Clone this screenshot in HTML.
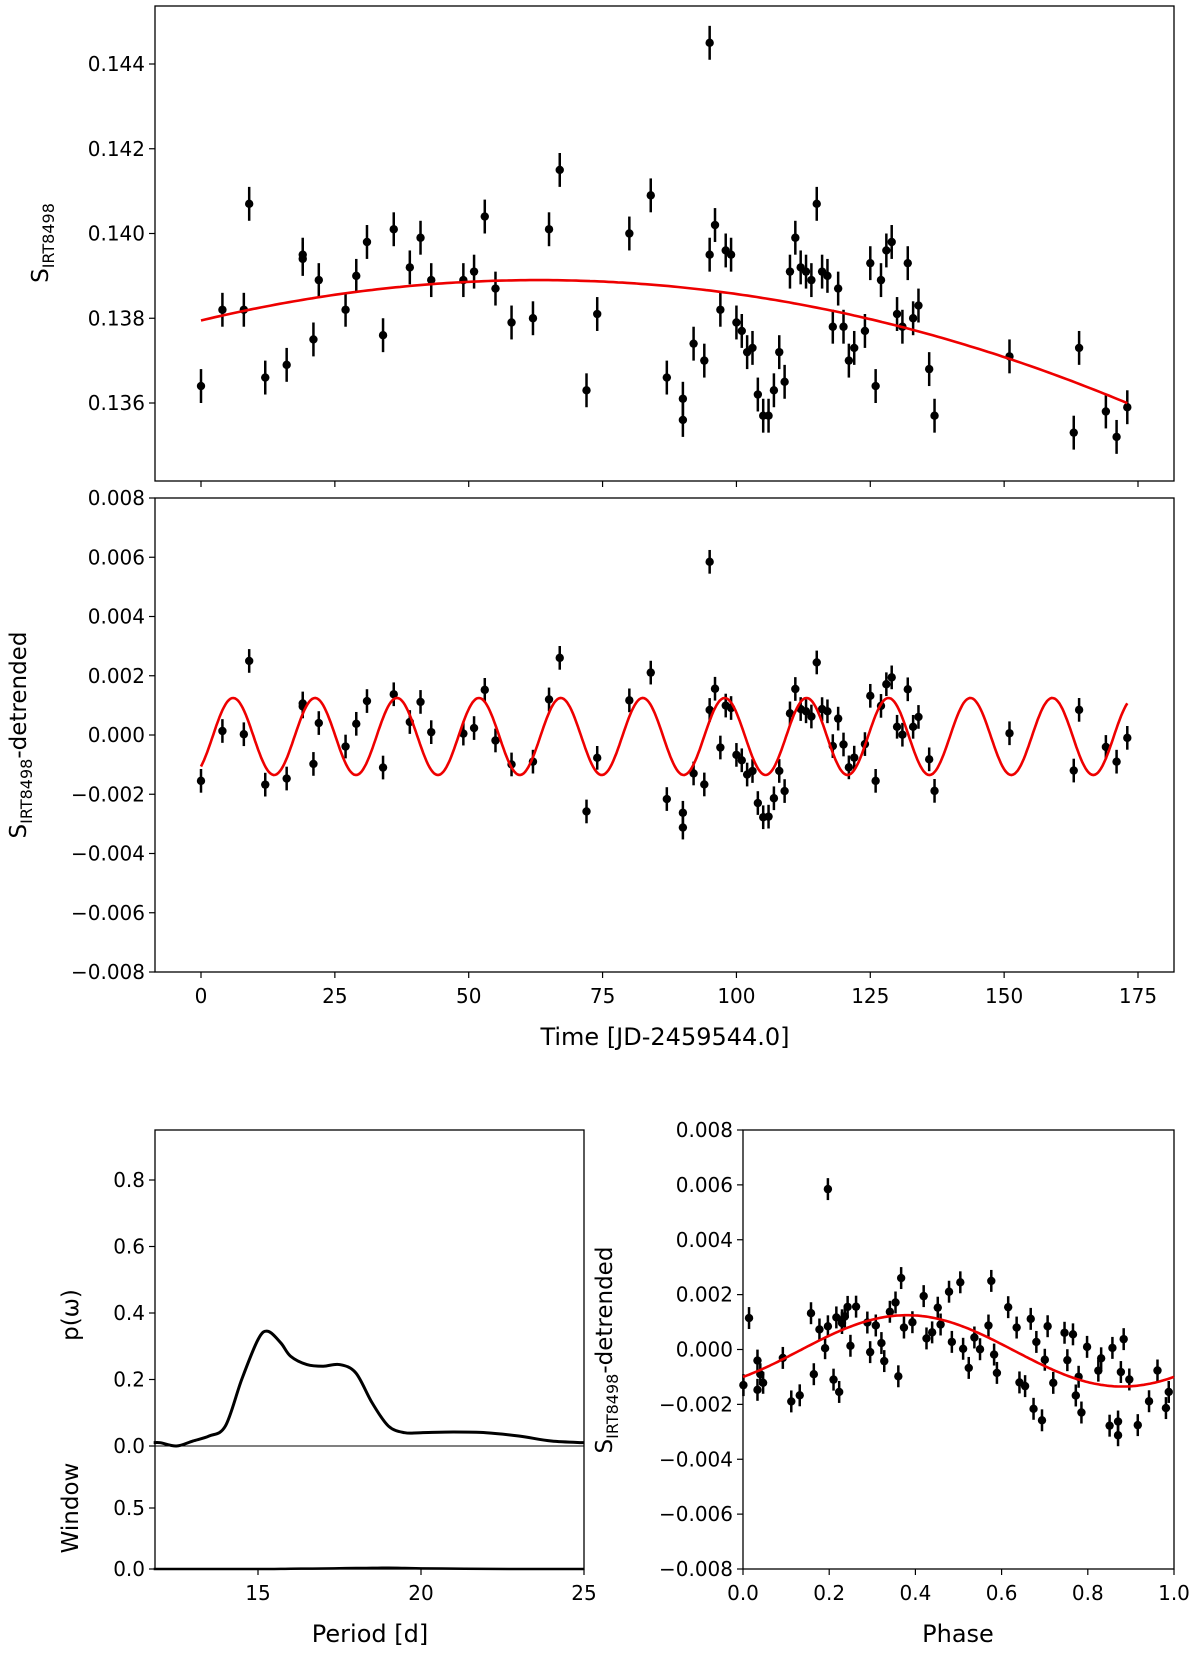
<!DOCTYPE html>
<html><head><meta charset="utf-8">
<style>
body{margin:0;background:#fff;}
svg{display:block;font-family:"DejaVu Sans","Liberation Sans",sans-serif;}
</style></head>
<body>
<svg id="fig" width="1200" height="1653" viewBox="0 0 1200 1653" xmlns="http://www.w3.org/2000/svg"></svg>
<script>
// ---- data ----
const times = [0,4,8,9,12,16,19,19,21,22,27,29,31,34,36,39,41,43,49,51,53,55,58,62,65,67,72,74,80,84,87,90,90,92,94,95,95,96,97,98,99,100,101,102,103,104,105,106,107,108,109,110,111,112,113,114,115,116,117,118,119,120,121,122,124,125,126,127,128,129,130,131,132,133,134,136,137,151,163,164,169,171,173];
const sValues = [0.1364,0.1382,0.1382,0.1407,0.1366,0.1369,0.1394,0.1395,0.1375,0.1389,0.1382,0.1390,0.1398,0.1376,0.1401,0.1392,0.1399,0.1389,0.1389,0.1391,0.1404,0.1387,0.1379,0.1380,0.1401,0.1415,0.1363,0.1381,0.1400,0.1409,0.1366,0.1361,0.1356,0.1374,0.1370,0.1445,0.1395,0.1402,0.1382,0.1396,0.1395,0.1379,0.1377,0.1372,0.1373,0.1362,0.1357,0.1357,0.1363,0.1372,0.1365,0.1391,0.1399,0.1392,0.1391,0.1389,0.1407,0.1391,0.1390,0.1378,0.1387,0.1378,0.1370,0.1373,0.1377,0.1393,0.1364,0.1389,0.1396,0.1398,0.1381,0.1378,0.1393,0.1380,0.1383,0.1368,0.1357,0.1371,0.1353,0.1373,0.1358,0.1352,0.1359];
const sErr = 0.0004;
const trendPeak = 0.1389, trendCenter = 63, trendCurv = -2.4e-7;
const sinAmp = 0.0013, sinPeriod = 15.3, sinPeakT = 6, sinOffset = -0.00005;
const periods = [11.8,12,12.5,13,13.5,14,14.5,15,15.3,15.7,16,16.5,17,17.5,18,18.5,19,19.5,20,21,22,23,24,25];
const power   = [0.01,0.01,0.0,0.015,0.03,0.06,0.2,0.32,0.345,0.31,0.27,0.245,0.24,0.245,0.22,0.13,0.06,0.04,0.04,0.042,0.04,0.03,0.015,0.01];
const windowPow = [0,0,0,0,0,0,0,0,0,0.001,0.002,0.003,0.004,0.006,0.008,0.009,0.01,0.008,0.005,0.003,0.001,0,0,0];
const topTicks = [0.136,0.138,0.140,0.142,0.144];
const detTicks = [-0.008,-0.006,-0.004,-0.002,0,0.002,0.004,0.006,0.008];
const timeTicks = [0,25,50,75,100,125,150,175];
const periodTicks = [15,20,25];
const pTicks = [0,0.2,0.4,0.6,0.8];
const wTicks = [0,0.5];
const phaseTicks = [0,0.2,0.4,0.6,0.8,1.0];

const svg = document.getElementById('fig');
const NS='http://www.w3.org/2000/svg';
function el(tag,attrs,parent){const e=document.createElementNS(NS,tag);for(const k in attrs)e.setAttribute(k,attrs[k]);(parent||svg).appendChild(e);return e;}
function lin(d0,d1,r0,r1){return v=>r0+(v-d0)*(r1-r0)/(d1-d0);}
function fmtS(v,d){let s=v.toFixed(d);if(v<-1e-12)s='\u2212'+s.slice(1);if(Math.abs(v)<1e-12)s=(0).toFixed(d);return s;}
const trend = t => trendPeak + trendCurv*(t-trendCenter)*(t-trendCenter);
const sine = t => sinAmp*Math.cos(2*Math.PI*(t-sinPeakT)/sinPeriod)+sinOffset;
const resid = sValues.map((v,i)=>v-trend(times[i]));

function frame(x0,y0,x1,y1,name){
  const r=el('rect',{x:x0,y:y0,width:x1-x0,height:y1-y0,fill:'none',stroke:'#000','stroke-width':1.3});
  
  
}
function yTicks(ticks,sy,x0,d,name){
  const g=el('g',{});
  ticks.forEach(v=>{const y=sy(v);el('line',{x1:x0-6,x2:x0,y1:y,y2:y,stroke:'#000','stroke-width':1.2},g);
    const t=el('text',{x:x0-10,y:y+7,'text-anchor':'end','font-size':20},g);t.textContent=fmtS(v,d);});
}
function xTicks(ticks,sx,y0,d,labels,name){
  const g=el('g',{});
  ticks.forEach(v=>{const x=sx(v);el('line',{x1:x,x2:x,y1:y0,y2:y0+6,stroke:'#000','stroke-width':1.2},g);
    if(labels){const t=el('text',{x:x,y:y0+31,'text-anchor':'middle','font-size':20},g);t.textContent=v.toFixed(d);}});
}
function points(xs,ys,err,sx,sy,name){
  const g=el('g',{});
  xs.forEach((x,i)=>{const px=sx(x),py=sy(ys[i]);
    el('line',{x1:px,x2:px,y1:sy(ys[i]+err),y2:sy(ys[i]-err),stroke:'#000','stroke-width':2.5},g);
    el('circle',{cx:px,cy:py,r:4.2,fill:'#000'},g);});
}
function curve(f,a,b,sx,sy,name,n){
  let d='';for(let i=0;i<=n;i++){const t=a+(b-a)*i/n;d+=(i?'L':'M')+sx(t).toFixed(1)+','+sy(f(t)).toFixed(1);}
  const p=el('path',{d:d,fill:'none',stroke:'#e00','stroke-width':2.6});
  
}
function ylab(x,y,name,sub,rest){
  const t=el('text',{x:x,y:y,'text-anchor':'middle','font-size':23,transform:`rotate(-90 ${x} ${y})`});
  
  t.innerHTML='S<tspan font-size="16" dy="6">'+sub+'</tspan><tspan dy="-6">'+rest+'</tspan>';
}

// ---- top panel ----
const sxT=lin(0,175,201,1138);
const syTop=lin(0.136,0.144,403,64);
frame(155,6,1174,481,'top-plot-frame');
yTicks(topTicks,syTop,155,3,'top-y-ticks');
xTicks(timeTicks,sxT,481,0,false,'top-x-ticks');
points(times,sValues,sErr,sxT,syTop,'top-data-points');
curve(trend,0,173,sxT,syTop,'trend-curve',200);
ylab(48,243,'top-y-axis-title','IRT8498','');

// ---- middle panel ----
const syMid=lin(-0.008,0.008,972,498);
frame(155,498,1174,972,'middle-plot-frame');
yTicks(detTicks,syMid,155,3,'middle-y-ticks');
xTicks(timeTicks,sxT,972,0,true,'middle-x-ticks');
points(times,resid,sErr,sxT,syMid,'detrended-points');
curve(sine,0,173,sxT,syMid,'sine-fit-curve',600);
ylab(26,735,'middle-y-axis-title','IRT8498','-detrended');
let xl=el('text',{x:665,y:1045,'text-anchor':'middle','font-size':24});xl.textContent='Time [JD-2459544.0]';


// ---- periodogram ----
const sxP=lin(15,25,258,584);
const syP=lin(0,0.8,1446,1180);
const syW=lin(0,1,1569,1447);
frame(155,1130,584,1569,'periodogram-frame');
el('line',{x1:155,x2:584,y1:1446,y2:1446,stroke:'#000','stroke-width':1});
yTicks(pTicks,syP,155,1,'power-y-ticks');
yTicks(wTicks,syW,155,1,'window-y-ticks');
xTicks(periodTicks,sxP,1569,0,true,'period-x-ticks');
function smooth(xs,ys,sx,sy,name,w){
  let d='M'+sx(xs[0])+','+sy(ys[0]);
  for(let i=0;i<xs.length-1;i++){
    const p0=[sx(xs[Math.max(0,i-1)]),sy(ys[Math.max(0,i-1)])],p1=[sx(xs[i]),sy(ys[i])],p2=[sx(xs[i+1]),sy(ys[i+1])],p3=[sx(xs[Math.min(xs.length-1,i+2)]),sy(ys[Math.min(xs.length-1,i+2)])];
    const c1=[p1[0]+(p2[0]-p0[0])/6,p1[1]+(p2[1]-p0[1])/6],c2=[p2[0]-(p3[0]-p1[0])/6,p2[1]-(p3[1]-p1[1])/6];
    d+=`C${c1[0]},${c1[1]} ${c2[0]},${c2[1]} ${p2[0]},${p2[1]}`;
  }
  const p=el('path',{d:d,fill:'none',stroke:'#000','stroke-width':w});
  
}
smooth(periods,power,sxP,syP,'periodogram-curve',3);
smooth(periods,windowPow,sxP,syW,'window-curve',2.5);
let t1=el('text',{x:78,y:1315,'text-anchor':'middle','font-size':23,transform:'rotate(-90 78 1315)'});t1.textContent='p(\u03C9)';

let t2=el('text',{x:78,y:1508,'text-anchor':'middle','font-size':23,transform:'rotate(-90 78 1508)'});t2.textContent='Window';

let t3=el('text',{x:370,y:1642,'text-anchor':'middle','font-size':24});t3.textContent='Period [d]';


// ---- phase panel ----
const sxPh=lin(0,1,743,1174);
const syPh=lin(-0.008,0.008,1569,1130);
frame(743,1130,1174,1569,'phase-plot-frame');
yTicks(detTicks,syPh,743,3,'phase-y-ticks');
xTicks(phaseTicks,sxPh,1569,1,true,'phase-x-ticks');
const t0=sinPeakT-0.38*sinPeriod;
const phases=times.map(t=>{let p=((t-t0)/sinPeriod)%1;if(p<0)p+=1;return p;});
points(phases,resid,sErr,sxPh,syPh,'phase-points');
curve(p=>sine(t0+p*sinPeriod),0,1,sxPh,syPh,'phase-sine-curve',200);
ylab(612,1350,'phase-y-axis-title','IRT8498','-detrended');
let t4=el('text',{x:958,y:1642,'text-anchor':'middle','font-size':24});t4.textContent='Phase';

</script>
</body></html>
